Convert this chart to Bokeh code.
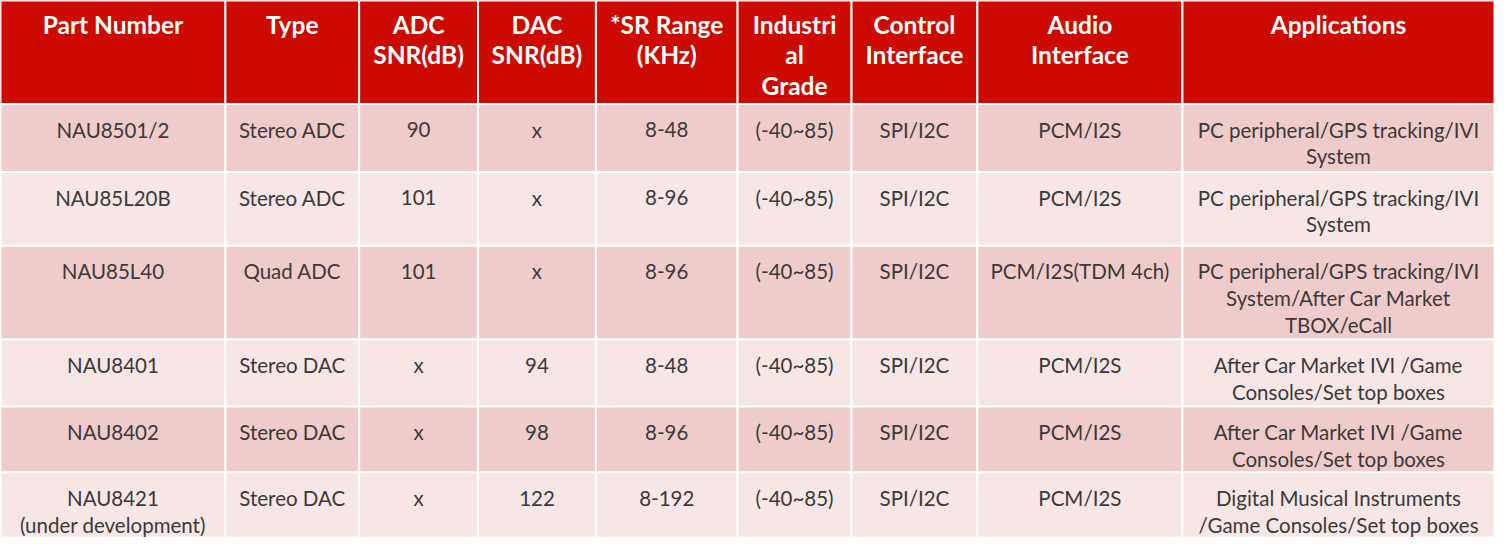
from bokeh.plotting import figure
from bokeh.models import Range1d, ColumnDataSource
from bokeh.embed import file_html
from bokeh.resources import INLINE
from bokeh.core.properties import value

# ---- data ----
headers = ["Part Number", "Type", "ADC\nSNR(dB)", "DAC\nSNR(dB)", "*SR Range\n(KHz)",
           "Industri\nal\nGrade", "Control\nInterface", "Audio\nInterface", "Applications"]
part_numbers = ["NAU8501/2", "NAU85L20B", "NAU85L40", "NAU8401", "NAU8402",
                "NAU8421\n(under development)"]
types = ["Stereo ADC", "Stereo ADC", "Quad ADC", "Stereo DAC", "Stereo DAC", "Stereo DAC"]
adc_snr = ["90", "101", "101", "x", "x", "x"]
dac_snr = ["x", "x", "x", "94", "98", "122"]
sr_range = ["8-48", "8-96", "8-96", "8-48", "8-96", "8-192"]
industrial_grade = ["(-40~85)", "(-40~85)", "(-40~85)", "(-40~85)", "(-40~85)", "(-40~85)"]
control_interface = ["SPI/I2C", "SPI/I2C", "SPI/I2C", "SPI/I2C", "SPI/I2C", "SPI/I2C"]
audio_interface = ["PCM/I2S", "PCM/I2S", "PCM/I2S(TDM 4ch)", "PCM/I2S", "PCM/I2S", "PCM/I2S"]
applications = ["PC peripheral/GPS tracking/IVI\nSystem",
                "PC peripheral/GPS tracking/IVI\nSystem",
                "PC peripheral/GPS tracking/IVI\nSystem/After Car Market\nTBOX/eCall",
                "After Car Market IVI /Game\nConsoles/Set top boxes",
                "After Car Market IVI /Game\nConsoles/Set top boxes",
                "Digital Musical Instruments\n/Game Consoles/Set top boxes"]
columns = [part_numbers, types, adc_snr, dac_snr, sr_range, industrial_grade,
           control_interface, audio_interface, applications]

# ---- layout ----
col_edges = [2, 229, 364, 484, 603, 746, 861, 988, 1195, 1510]
row_edges = [3, 108, 177, 252, 347, 415, 482, 548]
HEADER_RED = "#CC0A00"
ROW_COLORS = ["#EFCBCB", "#F6E6E6"]
FONT = "Lato"

p = figure(width=1494, height=537, output_backend="svg", toolbar_location=None,
           x_range=Range1d(2, 1510), y_range=Range1d(548, 3), min_border=0,
           background_fill_color="white", border_fill_color="white")
p.axis.visible = False
p.grid.visible = False
p.outline_line_color = None

# cells
l, r, t, b, fc = [], [], [], [], []
for ri in range(len(row_edges) - 1):
    for ci in range(len(col_edges) - 1):
        l.append(col_edges[ci]); r.append(col_edges[ci + 1])
        t.append(row_edges[ri]); b.append(row_edges[ri + 1])
        fc.append(HEADER_RED if ri == 0 else ROW_COLORS[(ri - 1) % 2])
cells = ColumnDataSource(dict(left=l, right=r, top=t, bottom=b, fill=fc))
p.quad(left="left", right="right", top="top", bottom="bottom", fill_color="fill",
       line_color="white", line_width=2, source=cells)

# header text (one glyph per line, alphabetic baseline)
hx, hy, ht = [], [], []
for ci, h in enumerate(headers):
    for k, line in enumerate(h.split("\n")):
        hx.append((col_edges[ci] + col_edges[ci + 1]) / 2)
        hy.append(row_edges[0] + 24 + k * 31)
        ht.append(line)
p.text(x=hx, y=hy, text=ht, text_align="center", text_baseline="alphabetic",
       text_font=value(FONT), text_font_style="bold", text_font_size="24.5px",
       text_color="white")

# body text
bx, by, bt = [], [], []
for ci, col in enumerate(columns):
    for ri, txt in enumerate(col):
        for k, line in enumerate(txt.split("\n")):
            bx.append((col_edges[ci] + col_edges[ci + 1]) / 2)
            by.append(row_edges[ri + 1] + 26 + k * 27)
            bt.append(line)
p.text(x=bx, y=by, text=bt, text_align="center", text_baseline="alphabetic",
       text_font=value(FONT), text_font_size="20.5px", text_color="#3A3A3A")

open("out.html", "w").write(file_html(p, INLINE))
